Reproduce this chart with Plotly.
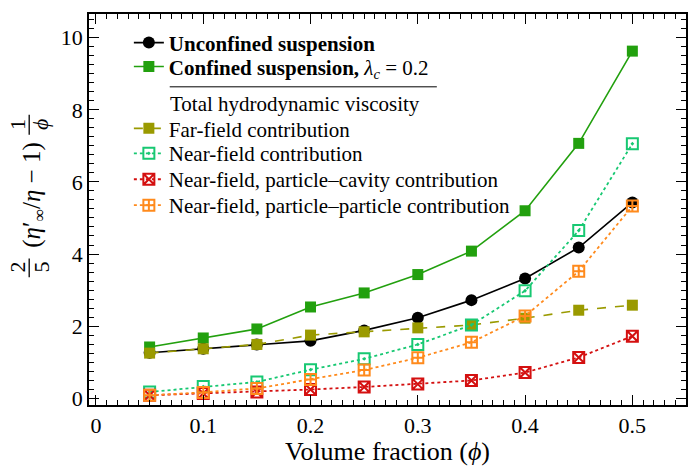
import plotly.graph_objects as go

# Volume fractions and reduced viscosity contributions
phi = [0.05, 0.10, 0.15, 0.20, 0.25, 0.30, 0.35, 0.40, 0.45, 0.50]
unconfined = [1.26, 1.37, 1.49, 1.59, 1.88, 2.23, 2.72, 3.32, 4.18, 5.43]
confined = [1.42, 1.67, 1.92, 2.53, 2.92, 3.43, 4.08, 5.20, 7.07, 9.63]
far_field = [1.25, 1.37, 1.49, 1.75, 1.84, 1.95, 2.03, 2.22, 2.44, 2.58]
near_field = [0.17, 0.32, 0.45, 0.79, 1.09, 1.49, 2.03, 2.98, 4.65, 7.06]
near_cavity = [0.08, 0.13, 0.17, 0.24, 0.31, 0.39, 0.49, 0.71, 1.13, 1.72]
near_particle = [0.08, 0.16, 0.27, 0.52, 0.78, 1.12, 1.55, 2.28, 3.52, 5.33]

x_ticks = [0, 0.1, 0.2, 0.3, 0.4, 0.5]
y_ticks = [0, 2, 4, 6, 8, 10]

FONT = "Liberation Serif"
W, H = 690, 466
ML, MR, MT, MB = 89, 2, 14, 60


def px(x):
    return (x - ML) / (W - ML - MR)


def py(y):
    return (H - MB - y) / (H - MT - MB)


# (name, values, colour, line dash, line width, marker symbol, size, legend row y)
series = [
    ("<b>Unconfined suspension</b>", unconfined, "black", "solid", 1.6, "circle", 12, 43),
    ("<b>Confined suspension,</b> <i>λ<sub>c</sub></i> = 0.2", confined, "#22a00e",
     "solid", 1.6, "square", 11, 67),
    ("Far-field contribution", far_field, "#9a9a00", "dash", 1.6, "square", 11, 129),
    ("Near-field contribution", near_field, "#17c872", "dot", 1.8,
     "square-open-dot", 11, 154),
    ("Near-field, particle–cavity contribution", near_cavity, "#d41010", "dot", 1.8,
     "square-x-open", 11, 180),
    ("Near-field, particle–particle contribution", near_particle, "#ff8a1c", "dot", 1.8,
     "square-cross-open", 11, 206),
]

fig = go.Figure()
legend_layout = {}
for i, (name, vals, col, dash, lw, sym, size, row) in enumerate(series):
    key = "legend" if i == 0 else f"legend{i + 1}"
    marker = dict(symbol=sym, size=size, color=col)
    if "open" in sym:
        marker["line"] = dict(width=2, color=col)
    fig.add_trace(go.Scatter(
        x=phi, y=vals, mode="lines+markers", name=name, showlegend=True,
        line=dict(color=col, width=lw, dash=dash),
        marker=marker, legend=key))
    legend_layout[key] = dict(
        x=px(129), y=py(row), xanchor="left", yanchor="middle",
        bgcolor="rgba(0,0,0,0)", font=dict(family=FONT, size=21, color="black"),
        itemwidth=30, tracegroupgap=0)

x_range = [-0.0065, 0.55]
y_range = [-0.19, 10.66]
tickfont = dict(family=FONT, size=22, color="black")

fig.update_layout(
    width=W, height=H,
    margin=dict(l=ML, r=MR, t=MT, b=MB),
    paper_bgcolor="white", plot_bgcolor="white",
    showlegend=True,
    font=dict(family=FONT, color="black", size=21),
    xaxis=dict(
        range=x_range, tickvals=x_ticks, ticktext=[str(v) for v in x_ticks],
        ticks="inside", ticklen=10, tickwidth=1.3, tickcolor="black",
        minor=dict(dtick=0.01, tick0=0, ticks="inside", ticklen=5,
                   tickwidth=1.1, tickcolor="black"),
        showline=True, linecolor="black", linewidth=1.6, mirror="allticks",
        showgrid=False, zeroline=False, tickfont=tickfont,
        title=dict(text="Volume fraction (<i>ϕ</i>)",
                   font=dict(family=FONT, size=26), standoff=8)),
    yaxis=dict(
        range=y_range, tickvals=y_ticks, ticktext=[str(v) for v in y_ticks],
        ticks="inside", ticklen=10, tickwidth=1.3, tickcolor="black",
        minor=dict(dtick=0.25, tick0=0, ticks="inside", ticklen=5,
                   tickwidth=1.1, tickcolor="black"),
        showline=True, linecolor="black", linewidth=1.6, mirror="allticks",
        showgrid=False, zeroline=False, tickfont=tickfont),
    # medium-length ticks at the half steps
    xaxis2=dict(
        range=x_range, overlaying="x", anchor="y", dtick=0.05, tick0=0,
        ticks="inside", ticklen=7, tickwidth=1.2, tickcolor="black",
        showticklabels=False, showline=False, mirror="allticks",
        showgrid=False, zeroline=False),
    yaxis2=dict(
        range=y_range, overlaying="y", anchor="x", dtick=1, tick0=0,
        ticks="inside", ticklen=7, tickwidth=1.2, tickcolor="black",
        showticklabels=False, showline=False, mirror="allticks",
        showgrid=False, zeroline=False),
    **legend_layout,
)

# rule under the top legend block and its caption
fig.add_shape(type="line", xref="paper", yref="paper",
              x0=px(170), x1=px(438), y0=py(87), y1=py(87),
              line=dict(color="black", width=1))
fig.add_annotation(xref="paper", yref="paper", x=px(168), y=py(104),
                   xanchor="left", yanchor="middle", showarrow=False,
                   text="Total hydrodynamic viscosity",
                   font=dict(family=FONT, size=21))

# vertical axis label: 2/5 (η'∞/η − 1) 1/ϕ, written bottom to top
ylab_font = dict(family=FONT, size=25)
frac_font = dict(family=FONT, size=22)


def rot_text(x, y, text, font):
    fig.add_annotation(xref="paper", yref="paper", x=px(x), y=py(y),
                       xanchor="center", yanchor="middle", showarrow=False,
                       textangle=-90, text=text, font=font)


def frac_bar(x, y0, y1):
    fig.add_shape(type="line", xref="paper", yref="paper",
                  x0=px(x), x1=px(x), y0=py(y0), y1=py(y1),
                  line=dict(color="black", width=1.3))


rot_text(17, 268, "2", frac_font)
frac_bar(29, 259, 278)
rot_text(41, 268, "5", frac_font)
rot_text(33, 196, "(<i>η</i>′<sub>∞</sub>/<i>η</i> − 1)", ylab_font)
rot_text(17, 125, "1", frac_font)
frac_bar(29, 115, 135)
rot_text(41, 125, "<i>ϕ</i>", frac_font)

fig.write_html("out.html")
